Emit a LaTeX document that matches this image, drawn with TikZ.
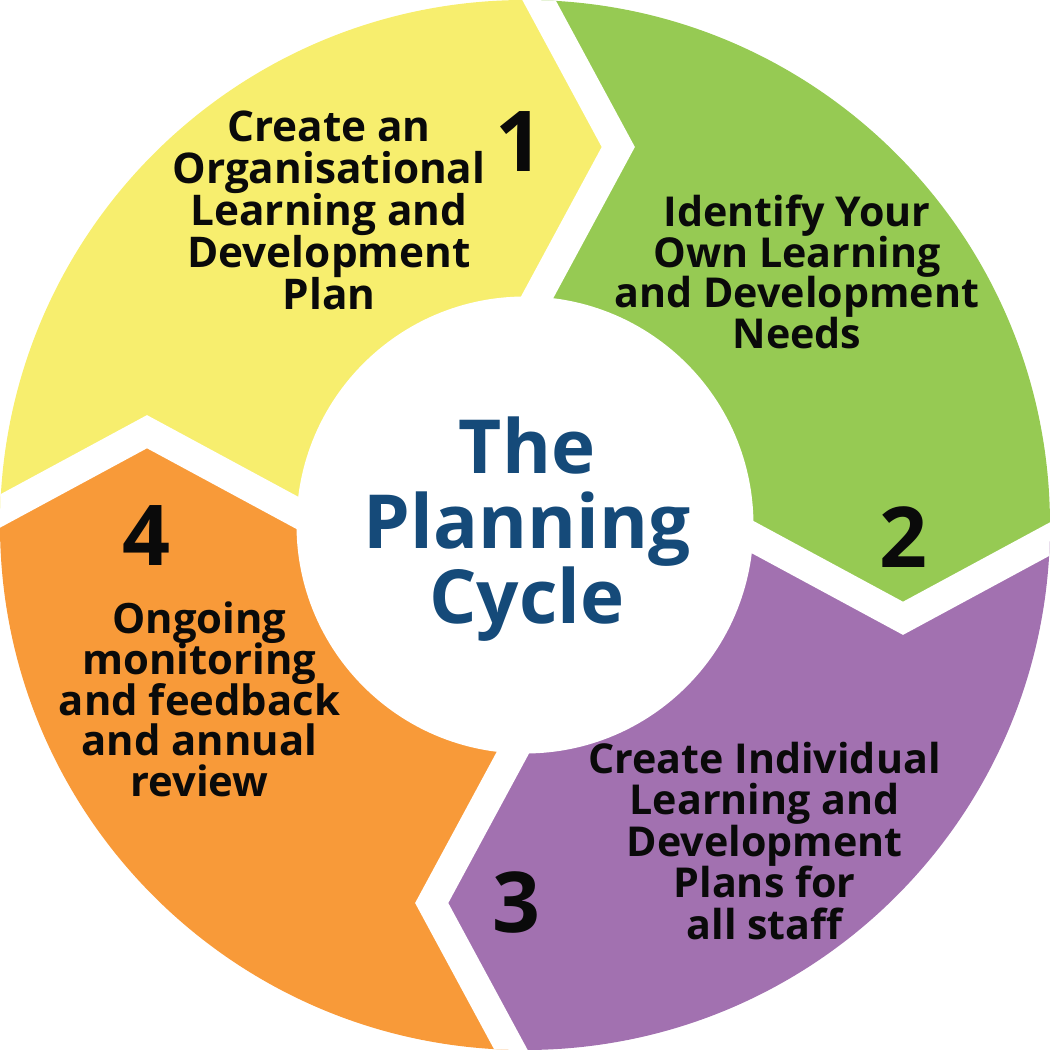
\documentclass[tikz,border=0pt]{standalone}
\usepackage{fontspec}
\setmainfont{Open Sans}
\definecolor{cyellow}{HTML}{F7EE6E}
\definecolor{cgreen}{HTML}{96CA53}
\definecolor{cpurple}{HTML}{A271B0}
\definecolor{corange}{HTML}{F89A39}
\definecolor{cblue}{HTML}{154A79}
\definecolor{ctext}{HTML}{0A0A0A}
\newcommand\tightskip{\lineskiplimit-100bp\relax}
\begin{document}
\begin{tikzpicture}[x=1bp,y=1bp,
  gapband/.style={draw=white, line width=29.2bp, line join=miter},
  blocktext/.style={align=center, anchor=base, inner sep=0pt, text=ctext},
  bignum/.style={anchor=base, inner sep=0pt, text=ctext,
    font={\fontsize{84bp}{84bp}\selectfont\bfseries}},
  titletext/.style={align=center, anchor=base, inner sep=0pt, text=cblue,
    font={\fontsize{74.6bp}{74.7bp}\selectfont\bfseries\tightskip}}]
\useasboundingbox (-525,-525) rectangle (525,525);
\begin{scope}
  \clip (0,0) circle (525);
  \foreach \c/\r in {cyellow/0, cgreen/-90, cpurple/-180, corange/-270}{
    \fill[\c, rotate=\r] (0,0) -- (-150,-29.8) -- (-378,93.3) -- (-620,-37.4)
      -- (-620,620) -- (-37.4,620) -- (93.3,378) -- (-29.8,150) -- cycle;
  }
  \foreach \r in {0,-90,-180,-270}{
    \draw[gapband, rotate=\r] (-620,-37.4) -- (-378,93.3) -- (-150,-29.8);
  }
\end{scope}
\fill[white] (0,0) circle (228.5);
\node[titletext] (title) at (2,-98.3) {The\\Planning\\Cycle};
\node[blocktext, font={\fontsize{42.3bp}{42.1bp}\selectfont\bfseries\tightskip}] (t1) at (-196,215)
  {Create an\\Organisational\\Learning and\\Development\\Plan};
\node[blocktext, font={\fontsize{41.2bp}{40.5bp}\selectfont\bfseries\tightskip}] (t2) at (272,176.7)
  {Identify Your\\Own Learning\\and Development\\Needs};
\node[blocktext, font={\fontsize{41.2bp}{41.4bp}\selectfont\bfseries\tightskip}] (t3) at (239.5,-414)
  {Create Individual\\Learning and\\Development\\Plans for\\all staff};
\node[blocktext, font={\fontsize{41.8bp}{40.85bp}\selectfont\bfseries\tightskip}] (t4) at (-325.5,-271.7)
  {Ongoing\\monitoring\\and feedback\\and annual\\review};
\node[bignum] (n1) at (-6,353.3) {1};
\node[bignum] (n2) at (378,-42.3) {2};
\node[bignum] (n3) at (-8.3,-407.7) {3};
\node[bignum] (n4) at (-379,-40) {4};
\end{tikzpicture}
\end{document}
